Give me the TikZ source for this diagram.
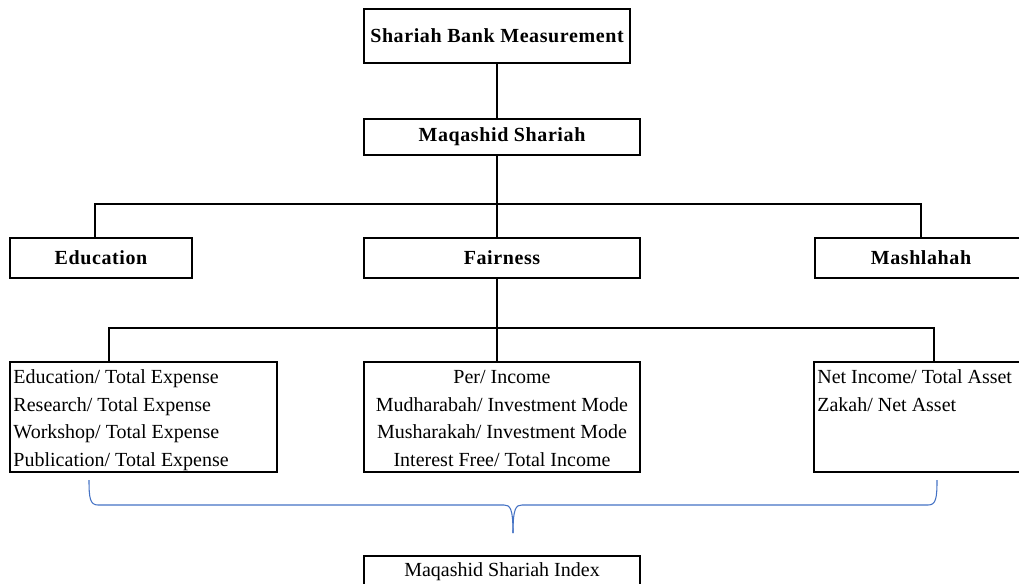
\documentclass[tikz,border=0pt]{standalone}
\usepackage{fontspec}
\setmainfont{Liberation Serif}
\usepackage{tikz}
\definecolor{braceblue}{RGB}{68,114,196}

\begin{document}
\begin{tikzpicture}[x=0.75pt,y=0.75pt,yscale=-1,xscale=1,
    font=\fontsize{15}{20.6}\selectfont,
    box/.style={draw, line width=1.6pt, inner sep=0pt, align=center},
    head/.style={box, font=\fontsize{15}{20.6}\selectfont\bfseries\addfontfeatures{LetterSpace=3}},
    metric/.style={draw, line width=1.6pt, inner xsep=2.5pt, inner ysep=2pt},
    link/.style={line width=1.6pt},
    brace/.style={draw=braceblue, line width=0.8pt}]
    \useasboundingbox (0,0) rectangle (1019,583);

    %Shape: Rectangle [top level]
    \node[head, minimum width=200pt, minimum height=40pt] (smb) at (497,36) {Shariah Bank Measurement};
    %Shape: Rectangle [second level]
    \node[head, minimum width=207pt, minimum height=27pt] (maq) at (502,137) {Maqashid Shariah};

    %Shape: Rectangle [dimensions]
    \node[head, minimum width=136.5pt, minimum height=30pt] (edu) at (101,258) {Education};
    \node[head, minimum width=207pt, minimum height=30pt] (fair) at (502,258) {Fairness};
    \node[head, minimum width=159pt, minimum height=30pt] (mas) at (921,258) {Mashlahah};

    %Shape: Rectangle [ratios]
    \node[metric] (lm) at (143.5,417) {\parbox[c][78.5pt][t]{195pt}{\raggedright\strut Education/ Total Expense\\ Research/ Total Expense\\ Workshop/ Total Expense\\ Publication/ Total Expense}};
    \node[metric] (mm) at (502,417) {\parbox[c][78.5pt][t]{202pt}{\centering\strut Per/ Income\\ Mudharabah/ Investment Mode\\ Musharakah/ Investment Mode\\ Interest Free/ Total Income}};
    \node[metric] (rm) at (922,417) {\parbox[c][78.5pt][t]{157pt}{\raggedright\strut Net Income/ Total Asset\\ Zakah/ Net Asset}};

    %Shape: Rectangle [index]
    \node[box, minimum width=207pt, minimum height=24pt] (idx) at (502,572) {Maqashid Shariah Index};

    %Straight Lines
    \coordinate (j1) at (497,204);
    \coordinate (b1l) at (95,204);
    \coordinate (b1r) at (921,204);
    \coordinate (j2) at (497,328);
    \coordinate (b2l) at (109,328);
    \coordinate (b2r) at (934,328);
    \draw[link] (smb) -- (smb |- maq.north);
    \draw[link] (j1 |- maq.south) -- (j1 |- fair.north);
    \draw[link] (b1l |- edu.north) -- (b1l) -- (b1r) -- (b1r |- mas.north);
    \draw[link] (j2 |- fair.south) -- (j2 |- mm.north);
    \draw[link] (b2l |- lm.north) -- (b2l) -- (b2r) -- (b2r |- rm.north);

    %Shape: Brace
    \coordinate (brl) at (89,480);
    \coordinate (brr) at (937,480);
    \coordinate (brtip) at (513,533);
    \draw[brace] (brl) .. controls (89,498) and (90,505) .. (98,505) -- (504,505) .. controls (510,505) and (513,508) .. (brtip);
    \draw[brace] (brtip) .. controls (513,508) and (516,505) .. (522,505) -- (928,505) .. controls (936,505) and (937,498) .. (brr);
\end{tikzpicture}
\end{document}
